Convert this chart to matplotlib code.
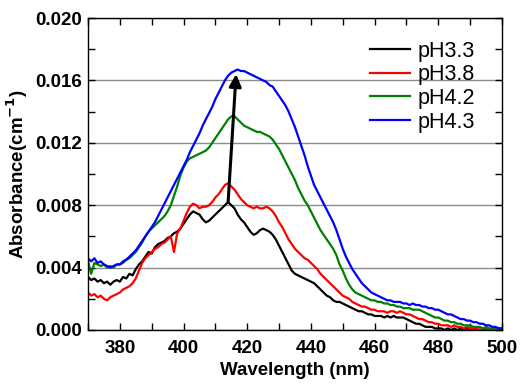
import numpy as np
import matplotlib
matplotlib.use("Agg")
import matplotlib.pyplot as plt

plt.rcParams['font.family'] = ['Liberation Sans', 'DejaVu Sans']

# wavelength axis (nm), 1 nm step
wavelength = np.arange(370, 501)

# absorbance values, in units of 1e-4 cm^-1
ph33 = np.array([
    34, 32, 33, 31, 32, 30, 31, 29, 31, 32, 31, 34, 33, 36, 35, 39, 42, 44, 47, 50,
    49, 53, 55, 56, 57, 59, 60, 62, 63, 65, 68, 71, 74, 76, 75, 74, 71, 69, 70, 72,
    74, 76, 78, 80, 82, 80, 78, 74, 71, 69, 66, 63, 61, 62, 64, 65, 64, 63, 61, 58,
    54, 50, 46, 42, 38, 36, 35, 34, 33, 32, 31, 30, 28, 26, 24, 22, 21, 19, 18, 18,
    17, 16, 15, 14, 13, 12, 12, 11, 10, 10, 9, 9, 9, 8, 9, 8, 9, 8, 8, 8,
    7, 6, 5, 4, 4, 3, 2, 2, 2, 1, 1, 1, 0, 1, 0, 1, 0, 1, 0, 1,
    0, 0, 1, 0, 0, 1, 0, 0, 1, 0, 0]) * 1e-4

ph38 = np.array([
    24, 22, 23, 21, 22, 20, 19, 21, 22, 23, 24, 26, 27, 28, 30, 33, 38, 43, 46, 48,
    50, 52, 53, 55, 56, 58, 60, 50, 62, 65, 70, 75, 79, 81, 80, 78, 79, 79, 80, 82,
    85, 87, 90, 93, 94, 92, 90, 87, 84, 82, 80, 79, 78, 79, 78, 78, 79, 78, 76, 73,
    69, 66, 62, 58, 55, 52, 50, 48, 46, 45, 43, 41, 39, 36, 34, 32, 30, 28, 26, 24,
    22, 21, 20, 18, 17, 16, 15, 15, 14, 13, 13, 12, 12, 12, 11, 12, 12, 11, 12, 11,
    10, 10, 9, 8, 7, 7, 6, 5, 5, 4, 4, 3, 3, 3, 2, 3, 2, 2, 1, 2,
    1, 1, 1, 0, 1, 1, 0, 1, 0, 1, 0]) * 1e-4

ph42 = np.array([
    44, 36, 43, 42, 41, 42, 40, 41, 40, 42, 42, 43, 45, 46, 48, 50, 53, 56, 60, 63,
    65, 67, 69, 71, 73, 76, 80, 86, 92, 99, 104, 108, 110, 111, 112, 113, 114, 115, 117, 120,
    123, 126, 129, 132, 135, 137, 137, 135, 133, 131, 130, 129, 128, 127, 127, 126, 125, 124, 122, 119,
    116, 112, 108, 104, 100, 96, 91, 87, 83, 80, 76, 72, 68, 64, 61, 58, 55, 52, 48, 42,
    38, 33, 29, 26, 24, 23, 22, 21, 20, 19, 19, 18, 18, 17, 17, 16, 16, 15, 15, 14,
    14, 14, 13, 13, 13, 12, 11, 10, 9, 8, 8, 7, 6, 6, 5, 5, 4, 4, 3, 3,
    3, 2, 2, 2, 1, 2, 1, 1, 1, 1, 1]) * 1e-4

ph43 = np.array([
    46, 44, 46, 43, 44, 42, 41, 40, 41, 42, 42, 44, 45, 47, 49, 51, 54, 57, 60, 63,
    66, 69, 73, 77, 81, 85, 89, 93, 97, 101, 105, 109, 114, 118, 122, 126, 131, 135, 139, 143,
    148, 152, 156, 160, 163, 165, 166, 167, 166, 166, 165, 164, 163, 162, 161, 160, 159, 157, 156, 153,
    150, 147, 144, 140, 135, 130, 124, 118, 112, 105, 99, 93, 89, 85, 81, 77, 73, 69, 64, 58,
    52, 47, 43, 39, 36, 33, 30, 28, 26, 24, 23, 22, 21, 20, 19, 19, 18, 18, 18, 17,
    17, 16, 17, 16, 16, 15, 15, 14, 14, 13, 13, 12, 11, 10, 10, 9, 8, 7, 7, 6,
    6, 5, 5, 4, 4, 3, 3, 2, 2, 1, 1]) * 1e-4

series = [("pH3.3", ph33, "black"),
          ("pH3.8", ph38, "red"),
          ("pH4.2", ph42, "green"),
          ("pH4.3", ph43, "blue")]

# arrow from the pH3.3 peak to the pH4.3 peak
arrow_start = (414.0, 0.0082)
arrow_end = (416.5, 0.0164)

fig = plt.figure(figsize=(5.22, 3.85), dpi=100)
ax = fig.add_axes([0.1686, 0.1429, 0.793, 0.8103])

for label, y, color in series:
    ax.plot(wavelength, y, color=color, lw=1.6, label=label)

ax.annotate("", xy=arrow_end, xytext=arrow_start,
            arrowprops=dict(arrowstyle="-|>", color="black", lw=2.2,
                            mutation_scale=18, shrinkA=0, shrinkB=0))

ax.set_xlim(370, 500)
ax.set_ylim(0, 0.020)
ax.set_xticks(np.arange(380, 501, 20))
ax.set_xticks(np.arange(370, 501, 10), minor=True)
ax.set_yticks(np.arange(0, 0.0201, 0.004))
ax.set_yticks(np.arange(0, 0.0201, 0.002), minor=True)
ax.yaxis.set_major_formatter(matplotlib.ticker.FormatStrFormatter('%.3f'))

ax.grid(axis='y', which='major', color='#8c8c8c', lw=1.0)
ax.set_axisbelow(True)

for s in ax.spines.values():
    s.set_linewidth(1.0)
ax.tick_params(which='both', direction='in', top=True, right=True,
               length=5, width=1.0)
ax.tick_params(axis='x', which='major', pad=7)
ax.tick_params(axis='y', which='major', pad=4)
for t in ax.get_xticklabels() + ax.get_yticklabels():
    t.set_fontsize(13.5)
    t.set_fontweight('bold')

ax.set_xlabel("Wavelength (nm)", fontsize=13.5, fontweight='bold', labelpad=4)
ax.set_ylabel(r"Absorbance(cm$^{\mathbf{-1}}$)", fontsize=13.5,
              fontweight='bold', labelpad=4)

ax.legend(loc='upper right', bbox_to_anchor=(0.988, 0.996), frameon=False,
          fontsize=15.5, handlelength=1.9, handletextpad=0.35,
          labelspacing=0.12, borderaxespad=0.6)

fig.savefig("out.png", dpi=100)
